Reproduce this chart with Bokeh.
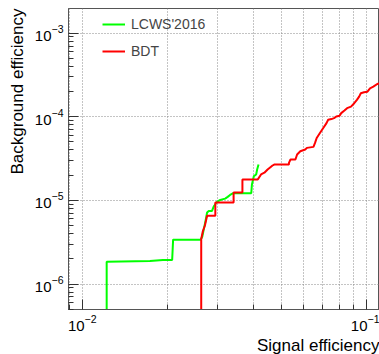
from bokeh.plotting import figure
from bokeh.models import Range1d, Title, FixedTicker
from bokeh.embed import file_html
from bokeh.resources import INLINE

# LCWS'2016 curve (signal efficiency, background efficiency)
lcws_x = [0.01219, 0.01219, 0.01730, 0.01922, 0.02071, 0.02087, 0.02608, 0.02642,
          0.02713, 0.02748, 0.02785, 0.02859, 0.02898, 0.02975, 0.03056, 0.03180,
          0.03246, 0.03309, 0.03396, 0.03928, 0.03950, 0.04013, 0.04087, 0.04120,
          0.04166]
lcws_y = [2e-7, 1.85e-6, 1.89e-6, 1.94e-6, 1.94e-6, 3.39e-6, 3.39e-6, 3.68e-6,
          5.69e-6, 7.16e-6, 7.48e-6, 7.48e-6, 8.44e-6, 9.57e-6, 1.011e-5, 1.05e-5,
          1.10e-5, 1.16e-5, 1.22e-5, 1.22e-5, 1.55e-5, 1.95e-5, 2.04e-5, 2.34e-5,
          2.68e-5]

# BDT curve
bdt_x = [0.0262, 0.0262, 0.02656, 0.02698, 0.02748, 0.02937, 0.02937, 0.03405,
         0.03405, 0.03657, 0.03657, 0.04142, 0.04252, 0.04368, 0.04484, 0.04667,
         0.04730, 0.05329, 0.05329, 0.05397, 0.05616, 0.05693, 0.05843, 0.06080,
         0.06163, 0.06499, 0.06582, 0.06671, 0.06848, 0.07035, 0.07222, 0.07320,
         0.07515, 0.07678, 0.07819, 0.08027, 0.08135, 0.08351, 0.08531, 0.08807,
         0.09041, 0.09236, 0.09406, 0.09535, 0.09788, 0.1006, 0.1027, 0.1055,
         0.1089, 0.1109, 0.115]
bdt_y = [2e-7, 3.45e-6, 4.30e-6, 4.97e-6, 6.53e-6, 6.53e-6, 9.42e-6, 9.42e-6,
         1.24e-5, 1.24e-5, 1.78e-5, 1.78e-5, 2.04e-5, 2.14e-5, 2.34e-5, 2.61e-5,
         2.68e-5, 2.68e-5, 2.81e-5, 3.08e-5, 3.08e-5, 3.53e-5, 3.86e-5, 4.05e-5,
         4.24e-5, 4.36e-5, 4.86e-5, 5.57e-5, 6.38e-5, 7.33e-5, 8.39e-5, 9.18e-5,
         9.37e-5, 9.62e-5, 1.006e-4, 1.025e-4, 1.104e-4, 1.185e-4, 1.265e-4, 1.321e-4,
         1.450e-4, 1.587e-4, 1.738e-4, 1.907e-4, 1.960e-4, 1.992e-4, 2.186e-4, 2.284e-4,
         2.459e-4, 2.506e-4, 2.65e-4]

series_labels = ["LCWS'2016", "BDT"]
x_title = "Signal efficiency"
y_title = "Background efficiency"

x_major = [0.01, 0.1]
x_minor = [0.009, 0.02, 0.03, 0.04, 0.05, 0.06, 0.07, 0.08, 0.09]
y_major = [1e-6, 1e-5, 1e-4, 1e-3]
y_minor = [m * d for d in (1e-7, 1e-6, 1e-5, 1e-4, 1e-3) for m in range(2, 10)]

FONT = "Liberation Sans"

p = figure(width=379, height=354, x_axis_type="log", y_axis_type="log",
           x_range=Range1d(0.00895, 0.1109), y_range=Range1d(4.96e-7, 1.965e-3),
           output_backend="svg", toolbar_location=None,
           min_border_left=62, min_border_right=0, min_border_top=8,
           min_border_bottom=43)
p.background_fill_color = "white"
p.border_fill_color = "white"
p.outline_line_color = "#555555"
p.outline_line_width = 1

p.line(lcws_x, lcws_y, line_color="#00ff00", line_width=2, legend_label=series_labels[0])
p.line(bdt_x, bdt_y, line_color="#ff0000", line_width=2, legend_label=series_labels[1])

p.xaxis[0].ticker = FixedTicker(ticks=x_major, minor_ticks=x_minor)
p.yaxis[0].ticker = FixedTicker(ticks=y_major, minor_ticks=y_minor)
p.xgrid.ticker = p.xaxis[0].ticker
p.ygrid.ticker = p.yaxis[0].ticker

for ax in (p.xaxis[0], p.yaxis[0]):
    ax.axis_line_color = "#555555"
    ax.major_tick_in = 10
    ax.major_tick_out = 0
    ax.minor_tick_in = 5
    ax.minor_tick_out = 0
    ax.major_tick_line_color = "#333333"
    ax.minor_tick_line_color = "#333333"
    ax.major_label_text_font = FONT
    ax.major_label_text_font_size = "15px"
    ax.major_label_text_color = "black"
p.yaxis[0].major_label_standoff = 5
p.xaxis[0].major_label_standoff = 5

p.xgrid.grid_line_color = "#888888"
p.xgrid.grid_line_dash = "1 2"
p.xgrid.minor_grid_line_color = "#888888"
p.xgrid.minor_grid_line_dash = "1 2"
p.ygrid.grid_line_color = "#888888"
p.ygrid.grid_line_dash = "1 2"

p.add_layout(Title(text=x_title, align="right", text_font=FONT, text_font_size="17px",
                   text_font_style="normal", text_color="black", standoff=0), "below")
p.add_layout(Title(text=y_title, align="right", text_font=FONT, text_font_size="17px",
                   text_font_style="normal", text_color="black"), "left")

leg = p.legend[0]
leg.location = (34, 248)
leg.padding = 0
leg.margin = 0
leg.spacing = 7
leg.glyph_width = 23
leg.glyph_height = 20
leg.label_height = 20
leg.label_standoff = 6
leg.label_text_font = FONT
leg.label_text_font_size = "14px"
leg.border_line_alpha = 0
leg.background_fill_alpha = 0

open("out.html", "w").write(file_html(p, INLINE))
